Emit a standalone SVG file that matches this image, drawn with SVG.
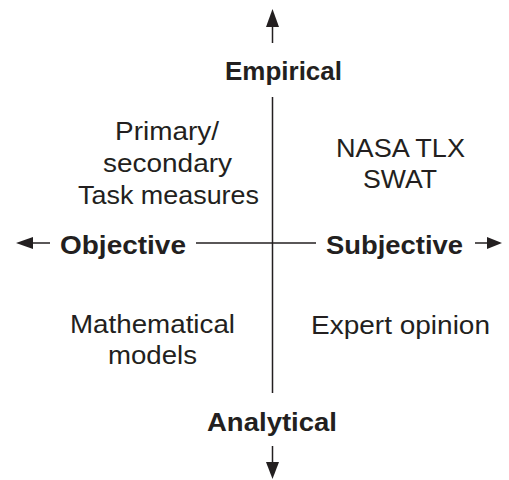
<svg xmlns="http://www.w3.org/2000/svg" width="509" height="480" viewBox="0 0 509 480">
<style>
.ax{stroke:#231f20;stroke-width:1.5;fill:none}
.b{font-family:"Liberation Sans",Arial,sans-serif;font-weight:bold;font-size:26px;fill:#231f20;text-anchor:middle}
.r{font-family:"Liberation Sans",Arial,sans-serif;font-size:25.5px;fill:#231f20;text-anchor:middle}
</style>
<defs>
<marker id="ah" viewBox="0 0 10 10" refX="10" refY="5" markerWidth="9" markerHeight="9" markerUnits="userSpaceOnUse" orient="auto">
<path d="M0,0 L10,5 L0,10 Z" fill="#231f20"/>
</marker>
</defs>
<g id="connectors">
<line class="ax" x1="272.5" y1="97" x2="272.5" y2="393"/>
<line class="ax" x1="196" y1="243" x2="316" y2="243"/>
<path d="M272.5,43 L272.5,27" class="ax"/>
<path d="M266,27 L272.5,9 L279,27 Z" fill="#231f20"/>
<path d="M272.5,446 L272.5,462" class="ax"/>
<path d="M266,462 L272.5,479 L279,462 Z" fill="#231f20"/>
<path d="M50,243 L33,243" class="ax"/>
<path d="M33,237 L16,243 L33,249 Z" fill="#231f20"/>
<path d="M475,243 L487,243" class="ax"/>
<path d="M487,237 L502,243 L487,249 Z" fill="#231f20"/>
</g>
<g id="empirical"><text class="b" x="283.5" y="80" textLength="117" lengthAdjust="spacingAndGlyphs">Empirical</text></g>
<g id="analytical"><text class="b" x="272" y="431" textLength="130" lengthAdjust="spacingAndGlyphs">Analytical</text></g>
<g id="objective"><text class="b" x="123" y="254" textLength="126" lengthAdjust="spacingAndGlyphs">Objective</text></g>
<g id="subjective"><text class="b" x="394.5" y="254" textLength="137" lengthAdjust="spacingAndGlyphs">Subjective</text></g>
<g id="primary">
<text class="r" x="167" y="140" textLength="104" lengthAdjust="spacingAndGlyphs">Primary/</text>
<text class="r" x="167.5" y="172" textLength="129" lengthAdjust="spacingAndGlyphs">secondary</text>
<text class="r" x="168.5" y="204" textLength="181" lengthAdjust="spacingAndGlyphs">Task measures</text>
</g>
<g id="nasa">
<text class="r" x="400.5" y="157" textLength="129" lengthAdjust="spacingAndGlyphs">NASA TLX</text>
<text class="r" x="400" y="188" textLength="74" lengthAdjust="spacingAndGlyphs">SWAT</text>
</g>
<g id="math">
<text class="r" x="152.5" y="333" textLength="165" lengthAdjust="spacingAndGlyphs">Mathematical</text>
<text class="r" x="152.5" y="364" textLength="89" lengthAdjust="spacingAndGlyphs">models</text>
</g>
<g id="expert"><text class="r" x="400.5" y="334" textLength="179" lengthAdjust="spacingAndGlyphs">Expert opinion</text></g>
</svg>
